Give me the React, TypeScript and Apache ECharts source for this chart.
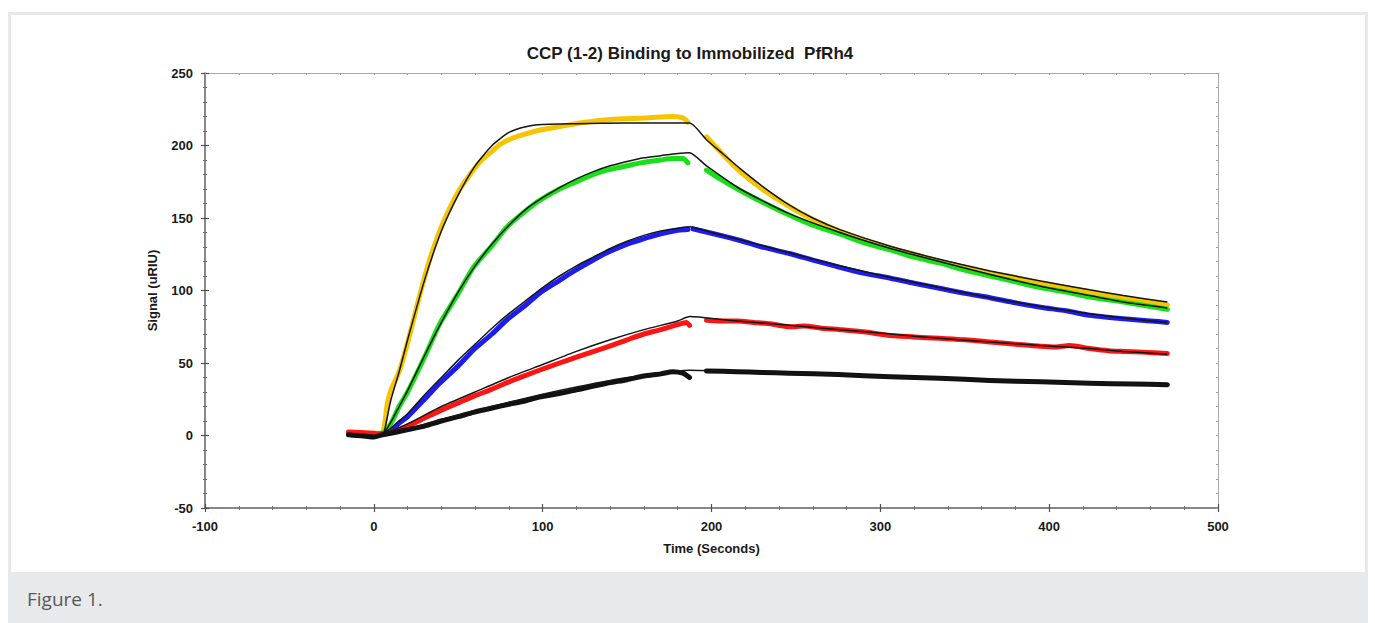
import React, { useEffect, useRef } from "react";
import * as echarts from "echarts";

// ---------- data (time s, signal uRIU) ----------
const xTicks = { min: -100, max: 500, step: 100 };
const yTicks = { min: -50, max: 250, step: 50 };

const yellowAssoc: number[][] = [
  [-15, 2], [-8, 1.8], [0, 1.5], [5, 2], [8, 22], [10, 31], [15, 44], [20, 64], [27, 96], [33, 121],
  [39, 141], [45, 157], [51, 170], [57, 180], [63, 189], [70, 196], [75, 201], [82, 205], [90, 208],
  [100, 211], [110, 213], [125, 216], [140, 218], [160, 219], [177, 220], [183, 219], [186, 216],
];
const yellowDissoc: number[][] = [
  [197, 206], [205, 196], [217, 182], [230, 170], [246, 158], [260, 149], [276, 141], [290, 135],
  [306, 129], [320, 125], [335, 120], [350, 116], [365, 112], [380, 109], [395, 105], [410, 102],
  [424, 99], [444, 95], [460, 92], [470, 90],
];
const yellowFit: number[][] = [
  [6, 1], [10, 24], [15, 44], [20, 66], [30, 107], [40, 141], [50, 166], [60, 186], [70, 200],
  [80, 209], [90, 213], [100, 214.5], [120, 215], [150, 215.5], [187, 215.5], [197, 204], [207, 194],
  [217, 184], [230, 172], [246, 159], [260, 150], [276, 142], [306, 130.5], [335, 121.5], [365, 113.5],
  [395, 106.5], [424, 100.5], [444, 96.5], [470, 92],
];

const greenAssoc: number[][] = [
  [-15, 1.5], [-8, 1.2], [0, 1], [5, 1.5], [10, 8], [15, 20], [20, 30], [30, 54], [39, 77], [50, 98],
  [59, 116], [70, 131], [79, 144], [90, 155], [98, 162], [110, 170], [118, 174], [130, 180],
  [138, 183], [150, 186], [158, 188], [170, 190], [177, 191], [183, 191], [186, 188],
];
const greenDissoc: number[][] = [
  [197, 183], [205, 177], [217, 169], [230, 161], [246, 152], [260, 145], [276, 139], [290, 133],
  [306, 128], [320, 123], [335, 119], [350, 114], [365, 110], [380, 106], [395, 102], [410, 99],
  [424, 95.5], [444, 92], [460, 89], [470, 87],
];
const greenFit: number[][] = [
  [6, 1], [10, 9], [15, 20], [20, 31], [30, 55], [40, 78], [50, 99], [60, 117], [70, 132], [80, 145],
  [90, 156], [100, 164], [110, 171], [120, 177], [130, 182], [140, 186], [150, 189], [160, 191.5],
  [170, 193], [180, 194.5], [187, 195], [197, 186], [217, 170], [246, 153], [276, 140], [306, 129],
  [335, 120], [365, 111], [395, 103], [424, 96.5], [444, 92], [470, 88],
];

const blueAssoc: number[][] = [
  [-15, 1], [-8, 0.8], [0, 0.5], [5, 1], [10, 3], [15, 8.6], [20, 13], [30, 25], [39, 36], [50, 48],
  [59, 59], [70, 70], [79, 80], [90, 90], [98, 98], [110, 107], [118, 113], [130, 121], [138, 126],
  [150, 132], [158, 135], [170, 139], [180, 141.5], [186, 142],
];
const blueDissoc: number[][] = [
  [189, 142.5], [200, 139.5], [217, 134.5], [230, 130], [246, 125.5], [260, 121], [276, 116],
  [290, 112], [306, 108.5], [320, 105], [335, 101.5], [350, 98], [365, 95], [380, 91.5], [395, 88.5],
  [410, 86], [424, 83], [444, 80.5], [460, 79], [470, 78],
];
const blueFit: number[][] = [
  [6, 1], [10, 5], [15, 10], [20, 15], [30, 28], [40, 40], [50, 52], [60, 63], [70, 74], [80, 84],
  [90, 93], [100, 102], [110, 110], [120, 117], [130, 123], [140, 129], [150, 134], [160, 138],
  [170, 141], [180, 143], [187, 144], [200, 140], [217, 135], [246, 126], [276, 117], [306, 109],
  [335, 102], [365, 95], [395, 89], [424, 84], [444, 81], [470, 78],
];

const redAssoc: number[][] = [
  [-15, 2.4], [-8, 2], [0, 1.5], [5, 1], [10, 2], [19, 6], [30, 12], [40, 17.5], [50, 22.5], [59, 27],
  [70, 32], [80, 37], [90, 41.5], [98, 45], [110, 50], [120, 54], [138, 61], [150, 66], [160, 70],
  [170, 73], [180, 76.5], [185, 78], [187, 76],
];
const redDissoc: number[][] = [
  [197, 79.5], [205, 79], [215, 79], [225, 78], [235, 77], [246, 75], [255, 75.5], [265, 74],
  [276, 73], [290, 71.5], [306, 69], [320, 68], [335, 67], [350, 66], [365, 64.5], [380, 63],
  [395, 61.5], [404, 61], [412, 62], [424, 60], [435, 58.5], [444, 58], [455, 57.5], [470, 56.5],
];
const redFit: number[][] = [
  [6, 1], [20, 8], [40, 20], [60, 30], [80, 40], [100, 49], [120, 58], [140, 66], [160, 73],
  [180, 79], [187, 82], [210, 79.5], [246, 76], [276, 73], [306, 70], [335, 67], [365, 64.5],
  [395, 62], [424, 60], [444, 58], [470, 56],
];

const blackAssoc: number[][] = [
  [-15, 0.5], [-10, 0], [-5, -0.5], [0, -1], [5, 0.5], [10, 1.5], [19, 3.8], [30, 6.5], [40, 10],
  [50, 13], [59, 16], [70, 19], [80, 21.5], [90, 24], [98, 26.5], [110, 29], [120, 31.5], [138, 36],
  [150, 38.5], [160, 41], [170, 42.5], [177, 44], [183, 43], [187, 40],
];
const blackDissoc: number[][] = [
  [197, 44.5], [215, 44], [230, 43.5], [246, 43], [275, 42], [306, 40.5], [335, 39.5], [365, 38],
  [395, 37], [424, 36], [450, 35.5], [470, 35],
];
const blackFit: number[][] = [
  [6, 1], [20, 4.5], [40, 11], [60, 17], [80, 23], [100, 28.5], [120, 33.5], [140, 38], [160, 41.5],
  [180, 44.5], [187, 45], [246, 43], [306, 40.5], [365, 38], [424, 36.2], [470, 35],
];

const curves = [
  { name: "yellow", color: "#f6c400", assoc: yellowAssoc, dissoc: yellowDissoc, fit: yellowFit },
  { name: "green", color: "#17e017", assoc: greenAssoc, dissoc: greenDissoc, fit: greenFit },
  { name: "blue", color: "#1c1cf0", assoc: blueAssoc, dissoc: blueDissoc, fit: blueFit },
  { name: "red", color: "#ff1414", assoc: redAssoc, dissoc: redDissoc, fit: redFit },
  { name: "black", color: "#111111", assoc: blackAssoc, dissoc: blackDissoc, fit: blackFit },
];

const FONT = "'Liberation Sans', Arial, sans-serif";

export default function App() {
  const ref = useRef<HTMLDivElement>(null);

  useEffect(() => {
    if (!ref.current) return;
    const chart = echarts.init(ref.current, undefined, { renderer: "svg" });

    const labelStyle = { fontFamily: FONT, fontWeight: "bold" as const, fontSize: 13, color: "#1a1a1a" };

    const dataSeries: any[] = [];
    curves.forEach((c) => {
      [c.assoc, c.dissoc].forEach((seg, i) => {
        dataSeries.push({
          type: "line",
          name: c.name + (i === 0 ? " assoc" : " dissoc"),
          data: seg,
          xAxisIndex: 0,
          yAxisIndex: 0,
          showSymbol: false,
          smooth: 0.25,
          lineStyle: { color: c.color, width: 5, cap: "round", join: "round" },
          z: 2,
        });
      });
    });
    const fitSeries = curves.map((c) => ({
      type: "line",
      name: c.name + " fit",
      data: c.fit,
      xAxisIndex: 0,
      yAxisIndex: 0,
      showSymbol: false,
      smooth: 0.2,
      lineStyle: { color: "#151515", width: 1.5 },
      z: 3,
    }));

    chart.setOption({
      animation: false,
      backgroundColor: "transparent",
      title: {
        text: "CCP (1-2) Binding to Immobilized  PfRh4",
        left: 685,
        textAlign: "center",
        top: 40,
        textStyle: { fontFamily: FONT, fontWeight: "bold", fontSize: 17, color: "#1a1a1a" },
      },
      grid: { left: 205, top: 73, width: 1013, height: 435 },
      xAxis: [
        {
          type: "value",
          position: "bottom",
          min: xTicks.min,
          max: xTicks.max,
          interval: xTicks.step,
          axisLine: { show: true, onZero: false, lineStyle: { color: "#606060", width: 1.5 } },
          axisTick: { show: true, inside: false, length: 4, lineStyle: { color: "#505050", width: 1.2 } },
          minorTick: { show: true, splitNumber: 5, length: 2, lineStyle: { color: "#707070" } },
          axisLabel: { ...labelStyle, margin: 12 },
          splitLine: { show: false },
          minorSplitLine: { show: false },
          name: "Time (Seconds)",
          nameLocation: "middle",
          nameGap: 34,
          nameTextStyle: { fontFamily: FONT, fontWeight: "bold", fontSize: 13, color: "#1a1a1a" },
        },
        {
          type: "value",
          position: "bottom",
          min: xTicks.min,
          max: xTicks.max,
          interval: xTicks.step,
          axisLine: { show: false, onZero: false },
          axisTick: { show: true, inside: true, length: 4, lineStyle: { color: "#505050", width: 1.2 } },
          minorTick: { show: true, splitNumber: 5, length: 2, lineStyle: { color: "#707070" } },
          axisLabel: { show: false },
          splitLine: { show: false },
        },
        {
          type: "value",
          position: "top",
          min: xTicks.min,
          max: xTicks.max,
          interval: 20,
          axisLine: { show: true, onZero: false, lineStyle: { color: "#a8a8a8", width: 1 } },
          axisTick: { show: true, inside: true, length: 2, lineStyle: { color: "#a0a0a0" } },
          axisLabel: { show: false },
          splitLine: { show: false },
        },
      ],
      yAxis: [
        {
          type: "value",
          position: "left",
          min: yTicks.min,
          max: yTicks.max,
          interval: yTicks.step,
          axisLine: { show: true, onZero: false, lineStyle: { color: "#606060", width: 1.5 } },
          axisTick: { show: true, inside: false, length: 4, lineStyle: { color: "#505050", width: 1.2 } },
          minorTick: { show: true, splitNumber: 5, length: 2, lineStyle: { color: "#707070" } },
          axisLabel: { ...labelStyle, margin: 12 },
          splitLine: { show: false },
          minorSplitLine: { show: false },
          name: "Signal (uRIU)",
          nameLocation: "middle",
          nameGap: 46,
          nameRotate: 90,
          nameTextStyle: { fontFamily: FONT, fontWeight: "bold", fontSize: 13, color: "#1a1a1a" },
        },
        {
          type: "value",
          position: "left",
          min: yTicks.min,
          max: yTicks.max,
          interval: yTicks.step,
          axisLine: { show: false, onZero: false },
          axisTick: { show: true, inside: true, length: 4, lineStyle: { color: "#505050", width: 1.2 } },
          minorTick: { show: true, splitNumber: 5, length: 2, lineStyle: { color: "#707070" } },
          axisLabel: { show: false },
          splitLine: { show: false },
        },
        {
          type: "value",
          position: "right",
          min: yTicks.min,
          max: yTicks.max,
          interval: 10,
          axisLine: { show: true, onZero: false, lineStyle: { color: "#a8a8a8", width: 1 } },
          axisTick: { show: true, inside: true, length: 2, lineStyle: { color: "#a0a0a0" } },
          axisLabel: { show: false },
          splitLine: { show: false },
        },
      ],
      series: [...dataSeries, ...fitSeries],
    });

    return () => chart.dispose();
  }, []);

  return (
    <div style={{ position: "absolute", left: 0, top: 0, width: 1375, height: 623, overflow: "hidden", background: "#ffffff" }}>
      <div
        style={{
          position: "absolute",
          left: 8,
          top: 12,
          width: 1360,
          height: 561,
          boxSizing: "border-box",
          border: "3px solid #e8e9ea",
          borderBottom: "none",
          background: "#ffffff",
        }}
      />
      <div
        style={{
          position: "absolute",
          left: 8,
          top: 572,
          width: 1360,
          height: 51,
          background: "#e8e9ea",
        }}
      >
        <div
          style={{
            position: "absolute",
            left: 19,
            top: 14,
            fontFamily: "'Open Sans', sans-serif",
            fontSize: 19,
            lineHeight: "26px",
            color: "#58595b",
          }}
        >
          Figure 1.
        </div>
      </div>
      <div ref={ref} style={{ position: "absolute", left: 0, top: 0, width: 1375, height: 572 }} />
    </div>
  );
}
